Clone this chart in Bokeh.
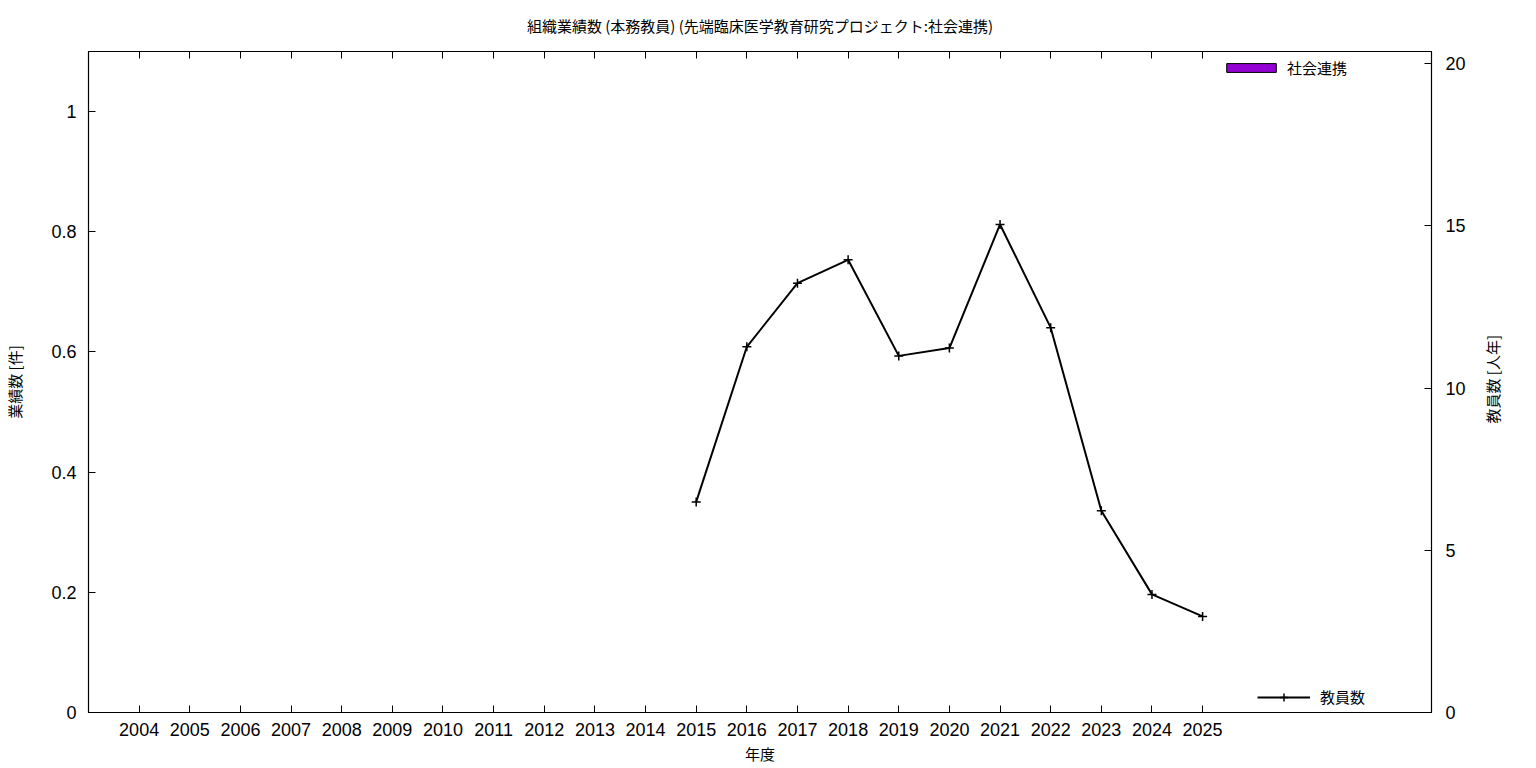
import math
from bokeh.plotting import figure
from bokeh.layouts import row, column
from bokeh.models import (Range1d, LinearAxis, FixedTicker, Legend, LegendItem,
                          ColumnDataSource)
from bokeh.core.properties import value
from bokeh.embed import file_html
from bokeh.resources import INLINE

# ---- data ----
years = list(range(2004, 2026))
shakai_renkei = [0] * len(years)          # 社会連携 (bars, all zero)
staff_years = [2015, 2016, 2017, 2018, 2019, 2020, 2021, 2022, 2023, 2024, 2025]
staff_counts = [6.49, 11.27, 13.23, 13.95, 10.99, 11.23, 15.04, 11.86, 6.22, 3.64, 2.96]
left_ticks = [0, 0.2, 0.4, 0.6, 0.8, 1.0]
right_ticks = [0, 5, 10, 15, 20]

TITLE = "組織業績数 (本務教員) (先端臨床医学教育研究プロジェクト:社会連携)"
RIGHT_LABEL = "教員数 [人年]"
FONT = "Noto Sans CJK JP"
NUMFONT = "Liberation Sans"


def bare(fig):
    fig.xgrid.visible = False
    fig.ygrid.visible = False
    fig.outline_line_color = None


# ---- title strip ----
t = figure(width=1507, height=40, output_backend="svg", toolbar_location=None,
           x_range=Range1d(0, 1507), y_range=Range1d(0, 40), min_border=0,
           x_axis_location=None, y_axis_location=None)
bare(t)
t.text(x=[759.5], y=[15], text=[TITLE], text_align="center", text_baseline="middle",
       text_font=value(FONT), text_font_size="15px", text_color="black")

# ---- main plot ----
p = figure(width=1477, height=728, output_backend="svg", toolbar_location=None,
           x_range=Range1d(2003, 2029.52), y_range=Range1d(0, 1.1),
           min_border_left=88, min_border_right=46, min_border_top=11,
           min_border_bottom=56, x_axis_location=None, y_axis_location=None)
p.extra_y_ranges = {"staff": Range1d(0, 20.37)}
p.xgrid.visible = False
p.ygrid.visible = False
p.outline_line_color = "black"
p.outline_line_width = 1.2
p.background_fill_color = "white"


def style_axis(ax, fs="18px"):
    ax.major_tick_in = 7
    ax.major_tick_out = 0
    ax.minor_tick_line_color = None
    ax.axis_line_color = "black"
    ax.major_tick_line_color = "black"
    ax.major_label_text_font = NUMFONT
    ax.major_label_text_font_size = fs
    ax.major_label_text_color = "black"
    ax.axis_label_text_font = FONT
    ax.axis_label_text_font_size = "15px"
    ax.axis_label_text_font_style = "normal"
    ax.axis_label_text_color = "black"


xb = LinearAxis(ticker=FixedTicker(ticks=years), axis_label="年度")
style_axis(xb)
xb.major_label_standoff = 10
xb.axis_label_standoff = 4
xb.major_label_overrides = {y: str(y) for y in years}
p.add_layout(xb, "below")

xt = LinearAxis(ticker=FixedTicker(ticks=years))
style_axis(xt, fs="0px")
xt.major_label_overrides = {y: "" for y in years}
xt.major_label_standoff = 0
p.add_layout(xt, "above")

yl = LinearAxis(ticker=FixedTicker(ticks=left_ticks), axis_label="業績数 [件]")
style_axis(yl)
yl.major_label_overrides = {0: "0", 0.2: "0.2", 0.4: "0.4", 0.6: "0.6", 0.8: "0.8", 1.0: "1"}
yl.major_label_standoff = 12
yl.axis_label_standoff = 23
p.add_layout(yl, "left")

yr = LinearAxis(y_range_name="staff", ticker=FixedTicker(ticks=right_ticks))
style_axis(yr)
yr.major_label_standoff = 14
p.add_layout(yr, "right")

bars = p.vbar(x=years, top=shakai_renkei, width=0.8, fill_color="#9400d3",
              line_color="black", line_width=1)

src = ColumnDataSource(dict(x=staff_years, y=staff_counts))
ln = p.line("x", "y", source=src, y_range_name="staff", line_color="black", line_width=2)
mk = p.scatter("x", "y", source=src, y_range_name="staff", marker="cross", size=9,
               line_color="black", line_width=1.5)

leg1 = Legend(items=[LegendItem(label="社会連携", renderers=[bars])],
              location=(1132, 634), glyph_width=62, glyph_height=11,
              label_text_font=FONT, label_text_font_size="15px",
              label_text_color="black",
              label_standoff=5, padding=0, margin=0, spacing=0,
              border_line_alpha=0, background_fill_alpha=0)
leg2 = Legend(items=[LegendItem(label="教員数", renderers=[ln, mk])],
              location=(1169, 5), glyph_width=53, glyph_height=20,
              label_text_font=FONT, label_text_font_size="15px",
              label_text_color="black",
              label_standoff=10, padding=0, margin=0, spacing=0,
              border_line_alpha=0, background_fill_alpha=0)
p.add_layout(leg1, "center")
p.add_layout(leg2, "center")

# ---- narrow strip holding the right-hand axis title, reading bottom-to-top ----
q = figure(width=30, height=728, output_backend="svg", toolbar_location=None,
           x_range=Range1d(-15, 15), y_range=Range1d(-364, 364),
           min_border=0, x_axis_location=None, y_axis_location=None)
bare(q)
q.text(x=[0], y=[3], text=[RIGHT_LABEL], angle=math.pi / 2,
       text_align="center", text_baseline="middle",
       text_font=value(FONT), text_font_size="15px", text_color="black")

layout = column(t, row(p, q, spacing=0), spacing=0)
open("out.html", "w").write(file_html(layout, INLINE))
